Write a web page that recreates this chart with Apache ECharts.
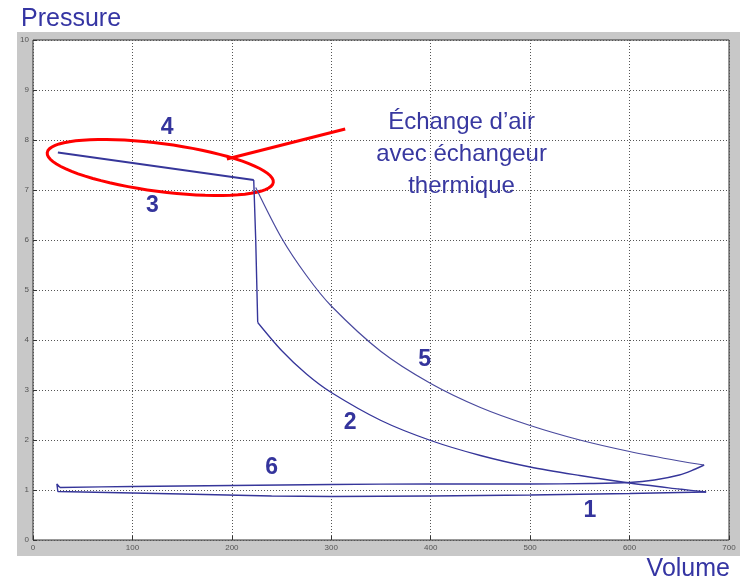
<!DOCTYPE html>
<html><head><meta charset="utf-8">
<script src="https://cdn.jsdelivr.net/npm/echarts@6/dist/echarts.min.js"></script>
<style>html,body{margin:0;padding:0;background:#fff}#c{width:740px;height:579px}</style>
</head><body><div id="c"></div>
<script>
// Ticks
var xTicks = [0,100,200,300,400,500,600,700];
var yTicks = [0,1,2,3,4,5,6,7,8,9,10];

// Cycle segments (Volume, Pressure)
var seg34 = [[25,7.75],[222,7.2]];
var segDrop = [[222,7.2],[224,6.0],[226,4.35]];
var seg2 = [[226,4.35],[250,3.79],[275,3.32],[300,2.95],[350,2.39],[400,1.99],[450,1.69],[500,1.46],[550,1.29],[600,1.14],[650,1.02],[677,0.96]];
var seg1 = [[677,0.96],[650,0.95],[600,0.93],[500,0.9],[400,0.88],[300,0.87],[240,0.88],[150,0.92],[100,0.94],[25,0.97],[24,0.94],[24,1.12],[27,1.05]];
var seg6 = [[27,1.05],[100,1.07],[200,1.09],[300,1.11],[400,1.12],[500,1.12],[560,1.13],[600,1.15],[625,1.2],[650,1.3],[665,1.41],[675,1.5]];
var seg5 = [[675,1.5],[650,1.58],[600,1.77],[550,2.0],[500,2.29],[450,2.65],[400,3.13],[350,3.77],[300,4.68],[275,5.29],[250,6.04],[224,7.05]];

// Phase labels
var phaseLabels = ['4','3','5','2','6','1'];
var phasePos = [[135,8.24],[120,6.68],[394,3.6],[319,2.34],[240,1.44],[560,0.58]];
var noteLines = ['Échange d\u2019air','avec échangeur','thermique'];
var notePos = [[431,8.36],[431,7.72],[431,7.08]];
var arrowFrom = [314,8.22], arrowTo = [195,7.62];
var ellipseCenter = [128,7.45];

var chart = echarts.init(document.getElementById('c'));
var lineColor = '#36369a';
function ser(d, w, c, sm){ return {type:'line', data:d, showSymbol:false, symbol:'none', smooth:sm||false, lineStyle:{color:c||lineColor,width:w||1.4}, animation:false, silent:true}; }

chart.setOption({
  animation:false,
  backgroundColor:'#fff',
  grid:{left:33,right:11,top:40,bottom:39,show:true,backgroundColor:'#fff',borderColor:'#333',borderWidth:1},
  xAxis:{type:'value',min:0,max:700,interval:100,
    axisLine:{show:false},
    axisTick:{inside:true,length:4,lineStyle:{color:'#333'}},
    axisLabel:{fontSize:8,color:'#555',margin:4,fontFamily:'Liberation Sans'},
    splitLine:{show:true,lineStyle:{type:[1,2],color:'#555',width:1}}},
  yAxis:{type:'value',min:0,max:10,interval:1,
    axisLine:{show:false},
    axisTick:{inside:true,length:4,lineStyle:{color:'#333'}},
    axisLabel:{fontSize:8,color:'#555',margin:4,fontFamily:'Liberation Sans'},
    splitLine:{show:true,lineStyle:{type:[1,2],color:'#555',width:1}}},
  series:[ser(seg34,1.8),ser(segDrop,1.4),ser(seg2,1.3,null,0.3),ser(seg1,1.4),ser(seg6,1.4,null,0.3),ser(seg5,1.2,'#4a4a9e',0.3)]
});

function px(p){ return chart.convertToPixel({gridIndex:0}, p); }
var g = [];
g.push({type:'rect',z:-10,silent:true,shape:{x:17,y:32,width:723,height:524},style:{fill:'#c8c8c8'}});
g.push({type:'text',left:21,top:7,style:{text:'Pressure',fontSize:25,fill:'#3535a3',fontFamily:'Liberation Sans'}});
g.push({type:'text',right:10,top:557,style:{text:'Volume',fontSize:25,fill:'#3535a3',fontFamily:'Liberation Sans'}});
phaseLabels.forEach(function(t,i){
  var p = px(phasePos[i]);
  g.push({type:'text',x:p[0],y:p[1],style:{text:t,fontSize:23,fontWeight:'bold',fill:'#34349c',align:'center',verticalAlign:'middle',fontFamily:'Liberation Sans'}});
});
noteLines.forEach(function(t,i){
  var p = px(notePos[i]);
  g.push({type:'text',x:p[0],y:p[1],style:{text:t,fontSize:24,fill:'#3838a0',align:'center',verticalAlign:'middle',fontFamily:'Liberation Sans'}});
});
var a = px(arrowFrom), b = px(arrowTo);
g.push({type:'line',shape:{x1:a[0],y1:a[1],x2:b[0],y2:b[1]},style:{stroke:'#f00',lineWidth:3}});
var c = px(ellipseCenter);
var pts = [], rx=114, ry=24, ang=7.5*Math.PI/180;
for (var k=0;k<72;k++){
  var t = k/72*2*Math.PI, ex=rx*Math.cos(t), ey=ry*Math.sin(t);
  pts.push([c[0]+ex*Math.cos(ang)-ey*Math.sin(ang), c[1]+ex*Math.sin(ang)+ey*Math.cos(ang)]);
}
g.push({type:'polygon',shape:{points:pts},style:{fill:'none',stroke:'#f00',lineWidth:3}});
chart.setOption({graphic:g});
</script></body></html>
